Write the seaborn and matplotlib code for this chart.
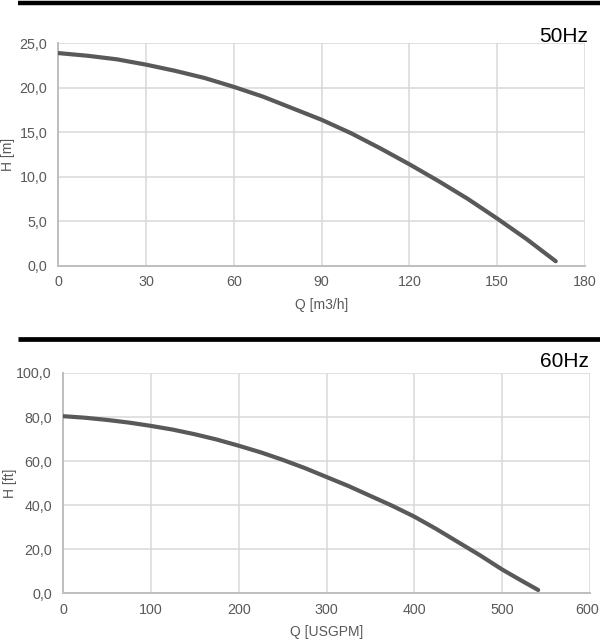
import matplotlib
matplotlib.use("Agg")
import matplotlib.pyplot as plt
from matplotlib.lines import Line2D
import matplotlib.transforms as mtransforms
import seaborn as sns
import pandas as pd

# 50 Hz curve (Q in m3/h, H in m)
q50 = [0, 10, 20, 30, 40, 50, 60, 70, 80, 90, 100, 110, 120, 130, 140, 150, 160, 170]
h50 = [23.9, 23.6, 23.2, 22.6, 21.9, 21.1, 20.1, 19.0, 17.7, 16.4, 14.9, 13.2,
       11.4, 9.5, 7.5, 5.3, 3.0, 0.5]
x50_ticks = [0, 30, 60, 90, 120, 150, 180]
y50_ticks = [0, 5, 10, 15, 20, 25]
y50_labels = ["0,0", "5,0", "10,0", "15,0", "20,0", "25,0"]

# 60 Hz curve (Q in USGPM, H in ft)
q60 = [0, 25, 50, 75, 100, 125, 150, 175, 200, 225, 250, 275, 300, 325, 350,
       375, 400, 425, 450, 475, 500, 520, 541]
h60 = [80.4, 79.7, 78.7, 77.5, 76.0, 74.3, 72.2, 69.8, 67.0, 64.0, 60.6, 56.9,
       52.8, 48.7, 44.2, 39.7, 34.8, 29.2, 23.2, 17.2, 10.8, 6.2, 1.5]
x60_ticks = [0, 100, 200, 300, 400, 500, 600]
y60_ticks = [0, 20, 40, 60, 80, 100]
y60_labels = ["0,0", "20,0", "40,0", "60,0", "80,0", "100,0"]

sns.set_theme(style="white")
plt.rcParams['font.family'] = ['Liberation Sans', 'DejaVu Sans']

fig = plt.figure(figsize=(6, 6.42), dpi=100)
W, H = 600, 642

def ax_rect(l, t, r, b):
    return [l / W, 1 - b / H, (r - l) / W, (b - t) / H]

ax1 = fig.add_axes(ax_rect(58.3, 43.3, 585, 265.7))
ax2 = fig.add_axes(ax_rect(63, 373, 590, 593.3))

curve_color = "#595959"
grid_color = "#d9d9d9"
spine_color = "#bfbfbf"
text_color = "#595959"

def style(ax, df, xt, yt, ylabels, xlab, ylab):
    sns.lineplot(data=df, x="Q", y="H", ax=ax, color=curve_color,
                 linewidth=3.0, solid_capstyle="round", solid_joinstyle="round", zorder=3)
    ax.set_xlim(xt[0], xt[-1])
    ax.set_ylim(yt[0], yt[-1])
    ax.set_xticks(xt)
    ax.set_xticklabels([str(v) for v in xt])
    ax.set_yticks(yt)
    ax.set_yticklabels(ylabels)
    ax.grid(True, color=grid_color, linewidth=1.1, zorder=0)
    for s in ["top", "right"]:
        ax.spines[s].set_visible(False)
    for s in ["left", "bottom"]:
        ax.spines[s].set_color(spine_color)
        ax.spines[s].set_linewidth(1.4)
    ax.tick_params(axis="both", length=0, labelsize=10.3, labelcolor=text_color)
    ax.tick_params(axis="y", pad=8)
    ax.tick_params(axis="x", pad=7)
    ax.set_xlabel(xlab, fontsize=10, color=text_color)
    ax.set_ylabel(ylab, fontsize=10, color=text_color)

df50 = pd.DataFrame({"Q": q50, "H": h50})
df60 = pd.DataFrame({"Q": q60, "H": h60})
style(ax1, df50, x50_ticks, y50_ticks, y50_labels, "Q [m3/h]", "H [m]")
style(ax2, df60, x60_ticks, y60_ticks, y60_labels, "Q [USGPM]", "H [ft]")

# keep the last bottom tick label inside the figure, as in the reference
last = ax2.get_xticklabels()[-1]
last.set_transform(last.get_transform() +
                   mtransforms.ScaledTranslation(-3 / 100, 0, fig.dpi_scale_trans))

ax1.xaxis.set_label_coords(0.5, -0.145)
ax2.xaxis.set_label_coords(0.5, -0.145)
ax1.yaxis.set_label_coords(-0.082, 0.5)
ax2.yaxis.set_label_coords(-0.088, 0.5)

# black separator bars
fig.add_artist(Line2D([18 / W, 1.0], [1 - 3.3 / H, 1 - 3.3 / H], color="black",
                      linewidth=3.2, transform=fig.transFigure, solid_capstyle="butt"))
fig.add_artist(Line2D([18 / W, 1.0], [1 - 338.5 / H, 1 - 338.5 / H], color="black",
                      linewidth=3.4, transform=fig.transFigure, solid_capstyle="butt"))

fig.text(588 / W, 1 - 42 / H, "50Hz", ha="right", va="baseline", fontsize=15, color="black")
fig.text(589 / W, 1 - 366.7 / H, "60Hz", ha="right", va="baseline", fontsize=15, color="black")

fig.savefig("out.png", dpi=100)
